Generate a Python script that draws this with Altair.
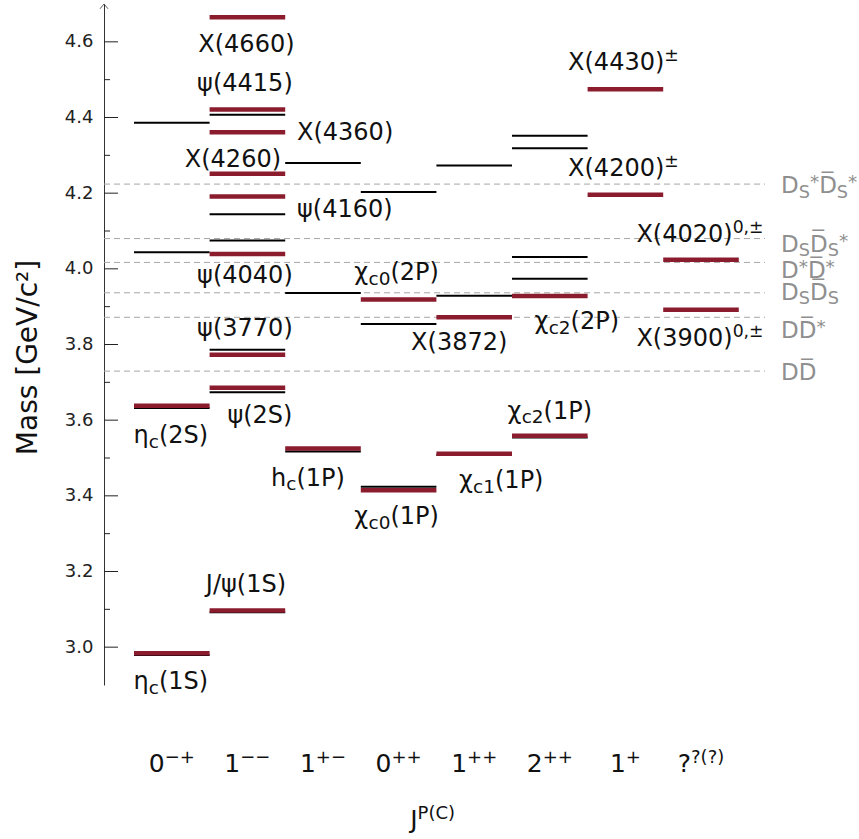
import altair as alt
import pandas as pd

# ---------------- data ----------------
columns = ["0^{−+}", "1^{−−}", "1^{+−}", "0^{++}", "1^{++}", "2^{++}", "1^{+}", "?^{?(?)}"]
x_title = "J^{P(C)}"
y_title = "Mass [GeV/c²]"

# predicted (black) levels, column index and mass [GeV]
theory_col = [0, 0, 0, 0,
              1, 1, 1, 1, 1, 1,
              2, 2, 2,
              3, 3, 3,
              4, 4, 4,
              5, 5, 5, 5, 5]
theory_mass = [2.979, 3.632, 4.044, 4.386,
               3.092, 3.674, 3.786, 4.075, 4.144, 4.407,
               3.517, 3.936, 4.280,
               3.424, 3.854, 4.203,
               3.508, 3.929, 4.273,
               3.554, 3.974, 4.031, 4.319, 4.352]

# observed (red) states
exp_names = ["η_{c}(1S)", "η_{c}(2S)", "J/ψ(1S)", "ψ(2S)", "ψ(3770)", "ψ(4040)",
             "ψ(4160)", "X(4260)", "X(4360)", "ψ(4415)", "X(4660)", "h_{c}(1P)",
             "χ_{c0}(1P)", "χ_{c0}(2P)", "χ_{c1}(1P)", "X(3872)", "χ_{c2}(1P)",
             "χ_{c2}(2P)", "X(4200)^{±}", "X(4430)^{±}", "X(3900)^{0,±}", "X(4020)^{0,±}"]
exp_col = [0, 0, 1, 1, 1, 1, 1, 1, 1, 1, 1, 2, 3, 3, 4, 4, 5, 5, 6, 6, 7, 7]
exp_mass = [2.984, 3.638, 3.097, 3.686, 3.773, 4.039, 4.191, 4.251, 4.361, 4.421,
            4.665, 3.525, 3.415, 3.919, 3.511, 3.872, 3.559, 3.928, 4.196, 4.475,
            3.892, 4.024]

# open-charm thresholds
thr_names = ["DD̅", "DD̅^{*}", "D_{S}D̅_{S}", "D^{*}D̅^{*}", "D_{S}D̅_{S}^{*}", "D_{S}^{*}D̅_{S}^{*}"]
thr_mass = [3.7297, 3.8719, 3.9367, 4.017, 4.080, 4.224]

major_ticks = [3.0, 3.2, 3.4, 3.6, 3.8, 4.0, 4.2, 4.4, 4.6]
minor_ticks = [3.1, 3.3, 3.5, 3.7, 3.9, 4.1, 4.3, 4.5]

# ---------------- layout / style ----------------
FONT = "DejaVu Sans"
RED = "#8a1c2e"
GREY_LINE = "#a6a6a6"
GREY_TEXT = "#8f8f8f"
F_LAB, F_TICK, F_THR = 24, 25, 23
SUB_SCALE, SUB_DROP, SUP_RAISE = 0.77, 0.2, 0.37

PLOT_W, PLOT_H = 740, 681
PAD_L, PAD_T, PAD_R = 104, 4, 15
PAD_B = 839 - PAD_T - PLOT_H
COL_PX = 75.6
U0 = -30 / COL_PX
U1 = U0 + PLOT_W / COL_PX
M0, M1 = 2.9, 4.7
PX_PER_M = PLOT_H / (M1 - M0)

# label placement (align, dx px, dy px) relative to column centre / level
label_align = ["center", "center", "center", "center", "center", "center",
               "left", "right", "left", "center", "center", "center",
               "center", "center", "center", "center", "center",
               "center", "center", "center", "center", "center"]
label_dx = [-1, -1, -1, 13, -2, -2, 49.6, 33.6, 49.6, -2, -1, -15,
            -2, -2, 27, -15, 0, 27, -2, -2, -1, -1]
label_dy = [36, 37, -18, 35, -19, 29, 20, -7, 8, -19, 35, 37,
            34, -19, 34, 33, -17, 33, -19, -19, 36, -18]
thr_label_dy = [0, 12, -2, 6.4, 4, 0]

WID = {c: 0.636 for c in "0123456789"}
WID.update({"(": 0.390, ")": 0.390, "X": 0.685, "S": 0.635, "P": 0.603, "J": 0.295,
            "/": 0.337, "ψ": 0.70, "η": 0.634, "χ": 0.59, "h": 0.634, "c": 0.550,
            "±": 0.838, ",": 0.318, "+": 0.838, "−": 0.838, "?": 0.531, "D": 0.770,
            "*": 0.500, "C": 0.698, " ": 0.318, "\u0305": 0.0})


def width(t):
    return sum(WID.get(ch, 0.6) for ch in t)


def parse(markup):
    segs, buf, i = [], "", 0
    while i < len(markup):
        ch = markup[i]
        if ch in "_^" and i + 1 < len(markup) and markup[i + 1] == "{":
            if buf:
                segs.append((buf, "n"))
                buf = ""
            j = markup.index("}", i)
            segs.append((markup[i + 2:j], "sub" if ch == "_" else "sup"))
            i = j + 1
        else:
            buf += ch
            i += 1
    if buf:
        segs.append((buf, "n"))
    return segs


def layout(markup, F, x_u, y_m, align, color, rows):
    placed, cur = [], 0.0
    for text, kind in parse(markup):
        if kind == "n":
            s, yo = F, 0.0
        elif kind == "sub":
            s, yo = F * SUB_SCALE, F * SUB_DROP
        elif text == "*":
            s, yo = F * 0.8, -F * 0.22
        else:
            s, yo = F * 0.72, -F * SUP_RAISE
        placed.append((text, s, cur, yo))
        cur += width(text) * s
    shift = 0 if align == "left" else (-cur / 2 if align == "center" else -cur)
    for text, s, xo, yo in placed:
        rows.append(dict(u=x_u + (xo + shift) / COL_PX, m=y_m - yo / PX_PER_M,
                         t=text, fs=s, c=color))


rows = []
for name, col, mass, al, dx, dy in zip(exp_names, exp_col, exp_mass, label_align, label_dx, label_dy):
    layout(name, F_LAB, col + 0.5 + dx / COL_PX, mass - dy / PX_PER_M, al, "#111111", rows)
for name, mass, dy in zip(thr_names, thr_mass, thr_label_dy):
    layout(name, F_THR, U0 + (781 - PAD_L) / COL_PX, mass - (9 + dy) / PX_PER_M, "left", GREY_TEXT, rows)
m_xlab = M1 - (772 - PAD_T) / PX_PER_M
for i, lab in enumerate(columns):
    layout(lab, F_TICK, i + 0.5, m_xlab, "center", "#111111", rows)
layout(x_title, F_TICK, 3.95, M1 - (828 - PAD_T) / PX_PER_M, "center", "#111111", rows)
text_df = pd.DataFrame(rows)

theory_df = pd.DataFrame({"x": theory_col, "m": theory_mass})
theory_df["x2"] = theory_df["x"] + 1
exp_df = pd.DataFrame({"x": exp_col, "m": exp_mass})
exp_df["x2"] = exp_df["x"] + 1
thr_df = pd.DataFrame({"m": thr_mass})
major_df = pd.DataFrame({"m": major_ticks})
minor_df = pd.DataFrame({"m": minor_ticks})

xscale = alt.Scale(domain=[U0, U1], nice=False, zero=False)
yscale = alt.Scale(domain=[M0, M1], nice=False, zero=False)

yaxis = alt.Axis(values=major_ticks, format=".1f", ticks=False, tickSize=0, grid=False,
                 domain=True, domainColor="#333333", domainWidth=1,
                 labelFont=FONT, labelFontSize=18, labelColor="#222222", labelPadding=11,
                 title=y_title, titleFont=FONT, titleFontSize=28, titleFontWeight="normal",
                 titleColor="#111111", titleAngle=270, titleAlign="center",
                 titleBaseline="middle", titleX=-76, titleY=353)


def Y():
    return alt.Y("m:Q", scale=yscale, axis=yaxis)


thr_layer = alt.Chart(thr_df).mark_rule(color=GREY_LINE, strokeWidth=1, strokeDash=[6, 4]).encode(
    x=alt.value(0), x2=alt.value(661), y=Y())

major_layer = alt.Chart(major_df).mark_rule(color="#222222", strokeWidth=1).encode(
    x=alt.value(0), x2=alt.value(14), y=Y())
minor_layer = alt.Chart(minor_df).mark_rule(color="#222222", strokeWidth=1).encode(
    x=alt.value(0), x2=alt.value(6), y=Y())

theory_layer = alt.Chart(theory_df).mark_rule(color="black", strokeWidth=2).encode(
    x=alt.X("x:Q", scale=xscale, axis=None), x2="x2:Q", y=Y())
exp_layer = alt.Chart(exp_df).mark_rule(color=RED, strokeWidth=4.5).encode(
    x=alt.X("x:Q", scale=xscale, axis=None), x2="x2:Q", y=Y())

text_layer = alt.Chart(text_df).mark_text(align="left", baseline="alphabetic", font=FONT).encode(
    x=alt.X("u:Q", scale=xscale, axis=None),
    y=Y(),
    text="t:N",
    size=alt.Size("fs:Q", scale=None),
    color=alt.Color("c:N", scale=None))

arrow = alt.Chart(pd.DataFrame({"a": [0]})).mark_point(
    shape="M-1,1.2L0,0L1,1.2", filled=False, size=64, strokeWidth=1, color="#222222").encode(
    x=alt.value(0), y=alt.value(0))

chart = alt.layer(thr_layer, major_layer, minor_layer, theory_layer, exp_layer, text_layer, arrow).properties(
    width=PLOT_W, height=PLOT_H,
    autosize=alt.AutoSizeParams(type="none"),
    padding={"left": PAD_L, "top": PAD_T, "right": PAD_R, "bottom": PAD_B},
).configure_view(stroke="transparent")

chart.save("out.html", embed_options={"renderer": "svg", "actions": False})
